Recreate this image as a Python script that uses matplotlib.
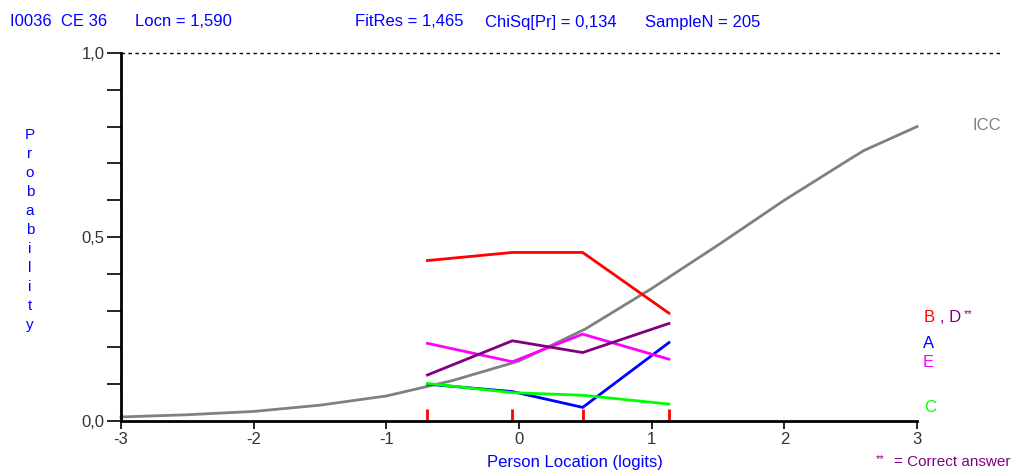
import matplotlib
matplotlib.use("Agg")
import matplotlib.pyplot as plt
from matplotlib.ticker import MultipleLocator

plt.rcParams['font.family'] = ['Liberation Sans', 'DejaVu Sans']

# ICC curve
icc_x = [-3.0, -2.5, -2.0, -1.5, -1.0, -0.5, 0.0, 0.5, 1.0, 1.5, 2.0, 2.5, 2.6, 3.0]
icc_y = [0.011, 0.017, 0.026, 0.043, 0.068, 0.11, 0.163, 0.25, 0.36, 0.478, 0.60, 0.713, 0.735, 0.80]

# class interval locations and observed proportions per option
group_x = [-0.69, -0.05, 0.48, 1.13]
opt_a = [0.100, 0.080, 0.037, 0.213]
opt_b = [0.436, 0.458, 0.458, 0.293]
opt_c = [0.102, 0.077, 0.070, 0.046]
opt_d = [0.125, 0.218, 0.186, 0.265]
opt_e = [0.211, 0.161, 0.236, 0.168]

W, H = 1022, 473
fig = plt.figure(figsize=(W / 100, H / 100), dpi=100)
ax = fig.add_axes([121 / W, 1 - 421 / H, 796 / W, 368 / H])

ax.plot(icc_x, icc_y, color='#808080', lw=2.0, clip_on=False)
ax.plot(group_x, opt_a, color='#0000ff', lw=2.0, clip_on=False)
ax.plot(group_x, opt_c, color='#00ff00', lw=2.0, clip_on=False)
ax.plot(group_x, opt_e, color='#ff00ff', lw=2.0, clip_on=False)
ax.plot(group_x, opt_d, color='#800080', lw=2.0, clip_on=False)
ax.plot(group_x, opt_b, color='#ff0000', lw=2.0, clip_on=False)

# red marks at the class interval locations
ax.vlines(group_x, 0, 0.033, color='#ff0000', lw=2.0)

# dashed line at 1.0
ax.plot([-3, 3.63], [1, 1], color='black', lw=1.0, ls=(0, (2.5, 2.5)), clip_on=False)

ax.set_xlim(-3, 3)
ax.set_ylim(0, 1)
for s in ['top', 'right']:
    ax.spines[s].set_visible(False)
for s in ['left', 'bottom']:
    ax.spines[s].set_linewidth(2)
ax.set_xticks(range(-3, 4))
ax.set_xticklabels([str(v) for v in range(-3, 4)])
ax.set_yticks([0, 0.5, 1.0])
ax.set_yticklabels(['0,0', '0,5', '1,0'])
ax.yaxis.set_minor_locator(MultipleLocator(0.1))
ax.tick_params(axis='y', which='both', length=10, width=1.2, labelsize=12, colors='#333333', pad=2)
ax.tick_params(axis='x', length=6, width=1.2, labelsize=12, colors='#333333', pad=2)
ax.tick_params(axis='both', which='both', color='black')

blue = '#0000ff'
fig.text(10 / W, 1 - 22 / H, 'I0036  CE 36', color=blue, fontsize=12, va='center')
fig.text(135 / W, 1 - 22 / H, 'Locn = 1,590', color=blue, fontsize=12, va='center')
fig.text(355 / W, 1 - 22 / H, 'FitRes = 1,465', color=blue, fontsize=12, va='center')
fig.text(485 / W, 1 - 22 / H, 'ChiSq[Pr] = 0,134', color=blue, fontsize=12, va='center')
fig.text(645 / W, 1 - 22 / H, 'SampleN = 205', color=blue, fontsize=12, va='center')

fig.text(30 / W, 1 - 230 / H, '\n'.join('Probability'), color=blue, fontsize=11,
         ha='center', va='center', linespacing=1.45)
fig.text(575 / W, 1 - 462 / H, 'Person Location (logits)', color=blue, fontsize=12,
         ha='center', va='center')

fig.text(972 / W, 1 - 125 / H, 'ICC', color='#808080', fontsize=12, va='center')
fig.text(924 / W, 1 - 318 / H, 'B', color='#ff0000', fontsize=12, va='center')
fig.text(940 / W, 1 - 318 / H, ', D', color='#800080', fontsize=12, va='center')
fig.text(964 / W, 1 - 314 / H, '**', color='#800080', fontsize=8, va='center')
fig.text(923 / W, 1 - 343 / H, 'A', color=blue, fontsize=12, va='center')
fig.text(923 / W, 1 - 362 / H, 'E', color='#ff00ff', fontsize=12, va='center')
fig.text(924 / W, 1 - 407 / H, 'C', color='#00ff00', fontsize=12, va='center')
fig.text(876 / W, 1 - 459 / H, '**', color='#800080', fontsize=8, va='center')
fig.text(1010 / W, 1 - 462 / H, '= Correct answer', color='#800080', fontsize=11,
         ha='right', va='center')

fig.savefig('out.png', dpi=100)
